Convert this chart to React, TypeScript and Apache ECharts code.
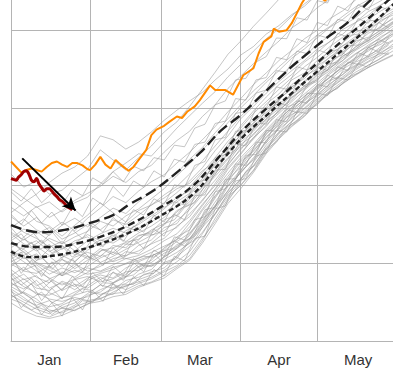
import React, { useEffect, useRef } from "react";
import * as echarts from "echarts";

// Month boundaries (day of year from Jan 1) and label positions
const MONTH_START_DAYS = [0, 31, 59, 90, 120, 151];
const MONTH_LABEL_DAYS = [15, 45, 74, 105, 136];
const MONTH_LABELS = ["Jan", "Feb", "Mar", "Apr", "May"];

// Days sampled for the first set of grey (past years) lines
const GREY_DAYS = [0, 5, 10, 15, 20, 25, 30, 35, 40, 45, 50, 55, 60, 65, 70, 75, 80, 85, 90, 95, 100, 105, 110, 115, 120, 125, 130, 135, 140, 145, 150];

const GREY_LINES: number[][] = [
  [6.0, 4.5, 3.6, 3.1, 3.8, 4.6, 5.9, 6.3, 7.5, 8.2, 9.6, 10.4, 12.0, 13.1, 15.2, 17.4, 19.6, 22.1, 24.0, 26.2, 27.6, 29.8, 31.0, 32.9, 33.6, 35.2, 36.1, 37.9, 38.6, 39.8, 41.0],
  [8.1, 7.0, 6.2, 5.4, 5.1, 5.6, 5.2, 5.5, 6.1, 6.3, 7.1, 7.6, 8.4, 9.5, 10.6, 12.9, 15.8, 18.3, 20.1, 22.0, 24.6, 26.8, 28.2, 29.9, 31.2, 32.6, 33.8, 35.1, 36.0, 37.2, 38.0],
  [4.9, 3.9, 3.2, 2.9, 3.3, 4.0, 4.7, 5.8, 6.9, 7.4, 8.6, 9.2, 10.8, 11.9, 13.6, 15.9, 18.4, 20.8, 22.4, 24.6, 26.1, 28.0, 29.6, 31.2, 32.5, 34.0, 35.2, 36.4, 37.3, 38.5, 39.6],
  [7.0, 6.1, 5.0, 4.4, 4.8, 5.9, 6.4, 6.0, 6.6, 7.8, 8.2, 8.9, 9.4, 10.9, 12.2, 14.0, 16.3, 18.6, 20.0, 21.9, 24.3, 26.2, 27.7, 29.0, 30.7, 32.0, 33.1, 34.3, 35.2, 36.1, 36.9],
  [9.2, 7.9, 8.4, 6.8, 7.5, 6.6, 7.8, 8.5, 8.1, 9.4, 10.2, 10.9, 11.8, 13.4, 14.3, 16.8, 18.7, 20.9, 23.1, 24.4, 26.6, 28.1, 29.9, 31.0, 32.8, 33.9, 35.4, 36.2, 37.8, 38.6, 39.9],
  [11.3, 10.2, 9.0, 8.1, 7.2, 8.0, 8.8, 9.9, 10.3, 11.5, 11.2, 12.6, 13.9, 14.6, 16.4, 18.0, 20.3, 22.6, 24.8, 26.1, 28.3, 29.5, 31.4, 32.6, 34.2, 35.0, 36.7, 37.5, 38.9, 40.1, 41.2],
  [12.5, 11.8, 10.4, 10.9, 9.6, 10.8, 11.4, 10.9, 12.3, 12.0, 13.5, 14.1, 15.6, 16.2, 18.3, 19.9, 22.0, 24.1, 26.2, 27.8, 29.0, 31.2, 32.4, 34.1, 35.0, 36.6, 37.4, 39.0, 39.8, 41.3, 42.0],
  [15.1, 14.0, 13.2, 12.1, 12.8, 11.6, 12.9, 13.8, 14.5, 13.9, 15.2, 16.4, 17.8, 19.1, 20.6, 22.3, 24.5, 26.4, 28.6, 30.2, 31.9, 33.4, 34.8, 36.1, 37.6, 38.5, 40.1, 41.0, 42.4, 43.2, 44.5],
  [21.5, 19.8, 20.6, 18.9, 19.4, 20.8, 22.1, 24.6, 23.3, 22.0, 23.6, 25.1, 26.9, 28.2, 30.2, 32.4, 34.6, 36.9, 38.6, 40.5, 42.2, 44.0, 45.6, 47.0, 48.4, 49.7, 50.8, 51.9, 52.8, 53.7, 54.6],
  [18.2, 17.0, 15.4, 14.8, 13.5, 14.9, 16.2, 17.8, 16.5, 15.3, 16.8, 17.5, 18.4, 19.6, 20.3, 21.9, 23.1, 25.0, 26.4, 28.1, 29.4, 31.0, 32.7, 33.8, 35.4, 36.5, 38.0, 38.8, 40.2, 41.1, 42.3],
  [16.5, 17.8, 18.9, 20.4, 21.6, 22.4, 23.8, 26.4, 25.9, 24.7, 25.6, 26.9, 28.4, 29.7, 30.9, 32.0, 33.6, 35.0, 36.8, 37.9, 39.5, 40.6, 42.0, 43.1, 44.6, 45.4, 46.9, 47.5, 48.8, 49.6, 50.7],
  [13.8, 12.5, 11.6, 12.4, 11.0, 10.2, 11.7, 12.6, 13.4, 14.7, 14.1, 15.8, 17.0, 18.5, 19.3, 21.4, 23.0, 24.9, 27.1, 28.4, 30.5, 31.8, 33.6, 34.5, 36.1, 37.3, 38.4, 39.7, 40.5, 41.9, 42.8],
  [7.8, 8.6, 7.1, 7.9, 6.5, 7.3, 6.8, 7.9, 8.8, 8.3, 9.5, 10.1, 11.3, 12.0, 13.8, 16.1, 18.6, 20.5, 22.7, 24.8, 26.9, 28.4, 30.1, 31.5, 32.9, 34.4, 35.6, 36.9, 38.1, 39.0, 40.3],
  [6.4, 5.3, 4.6, 5.2, 4.3, 4.9, 6.1, 7.2, 6.8, 7.0, 7.9, 8.5, 9.9, 10.6, 12.9, 15.0, 17.2, 19.9, 21.6, 23.6, 25.5, 27.3, 28.6, 30.4, 31.8, 33.0, 34.6, 35.5, 36.8, 37.6, 38.7],
  [10.4, 9.1, 9.8, 8.6, 9.4, 8.8, 9.6, 10.7, 11.4, 10.9, 12.3, 13.0, 14.6, 15.1, 17.3, 19.0, 21.5, 23.4, 25.6, 27.0, 28.9, 30.1, 31.9, 33.3, 34.6, 35.7, 37.2, 38.3, 39.6, 40.4, 41.7],
  [12.0, 13.1, 12.2, 11.0, 11.9, 12.6, 13.7, 12.9, 13.6, 12.8, 13.9, 14.8, 15.9, 17.4, 18.8, 20.6, 22.8, 25.3, 27.7, 29.6, 31.4, 33.0, 34.3, 35.9, 37.1, 38.6, 39.5, 41.0, 41.9, 43.3, 44.1],
  [8.8, 7.4, 6.0, 5.9, 6.7, 7.9, 8.3, 7.6, 8.0, 8.9, 9.1, 9.8, 10.5, 11.4, 12.6, 14.9, 17.5, 19.3, 21.8, 23.4, 25.8, 27.5, 29.0, 30.6, 32.0, 33.5, 34.3, 35.9, 36.6, 37.9, 38.8],
  [17.2, 16.1, 17.3, 15.9, 16.8, 18.1, 19.0, 19.9, 21.2, 20.4, 21.8, 22.6, 24.3, 25.8, 27.0, 28.9, 30.4, 32.5, 34.1, 35.7, 37.2, 38.6, 40.3, 41.4, 42.9, 44.0, 45.1, 46.3, 47.2, 48.4, 49.3],
  [9.6, 10.8, 9.5, 8.0, 8.7, 9.9, 9.0, 9.6, 10.6, 11.0, 11.6, 12.5, 13.2, 14.8, 16.0, 18.2, 20.0, 22.3, 24.2, 26.0, 27.8, 29.3, 30.8, 32.3, 33.7, 34.8, 36.1, 37.4, 38.4, 39.5, 40.6],
  [5.6, 6.3, 5.4, 4.0, 3.6, 4.4, 5.0, 5.4, 6.3, 7.1, 7.6, 8.2, 9.1, 10.2, 11.5, 13.8, 16.4, 19.0, 20.9, 23.0, 25.2, 26.9, 28.8, 30.0, 31.5, 32.8, 34.0, 35.3, 36.3, 37.0, 38.3],
  [11.8, 10.6, 11.2, 9.9, 10.5, 9.3, 10.4, 11.6, 12.0, 12.7, 13.1, 14.3, 15.1, 16.6, 17.9, 19.8, 21.7, 23.6, 25.0, 27.3, 28.5, 30.6, 31.6, 33.5, 34.4, 36.0, 36.9, 38.6, 39.1, 40.6, 41.5],
  [14.6, 15.7, 14.3, 13.6, 14.9, 15.8, 14.7, 15.9, 17.1, 16.4, 17.9, 19.2, 20.4, 21.6, 23.4, 24.9, 26.8, 28.6, 30.4, 32.2, 33.6, 35.3, 36.7, 38.0, 39.4, 40.5, 41.8, 43.0, 43.9, 45.2, 46.0],
  [7.4, 6.7, 7.8, 6.2, 5.5, 6.3, 7.1, 8.2, 7.5, 8.6, 9.9, 9.6, 10.9, 12.4, 13.2, 15.4, 17.9, 20.1, 22.0, 24.1, 26.3, 27.8, 29.4, 30.9, 32.4, 33.6, 35.0, 36.0, 37.5, 38.2, 39.4],
  [10.9, 11.5, 10.1, 9.4, 10.8, 11.4, 10.6, 11.9, 11.1, 12.4, 13.6, 13.9, 14.9, 16.8, 17.6, 19.5, 21.2, 23.0, 25.3, 26.5, 28.6, 29.9, 31.7, 32.8, 34.3, 35.4, 36.6, 37.8, 39.0, 40.0, 41.1],
  [19.6, 18.4, 17.2, 17.9, 16.6, 17.8, 18.5, 20.2, 21.8, 22.9, 24.1, 23.8, 25.6, 27.4, 29.0, 30.6, 32.1, 34.0, 35.6, 37.3, 38.9, 40.2, 41.8, 43.4, 44.6, 46.0, 47.3, 48.2, 49.5, 50.4, 51.3],
  [12.9, 11.4, 10.0, 9.1, 8.4, 9.1, 8.6, 8.9, 9.5, 9.9, 10.4, 11.0, 11.6, 12.8, 13.9, 15.6, 17.3, 19.1, 20.8, 22.6, 24.8, 26.4, 27.9, 29.2, 30.9, 32.2, 33.4, 34.6, 35.5, 36.4, 37.4],
  [13.2, 14.4, 13.8, 14.6, 13.1, 13.9, 15.0, 14.3, 15.6, 15.0, 16.2, 17.5, 18.8, 19.9, 21.5, 23.2, 25.1, 27.0, 28.9, 30.6, 32.3, 33.9, 35.5, 36.6, 38.2, 39.3, 40.6, 41.6, 42.9, 43.8, 45.0],
  [5.9, 5.0, 4.1, 3.5, 4.6, 5.3, 5.7, 6.6, 7.3, 6.6, 7.4, 8.0, 8.9, 9.7, 11.0, 13.2, 15.4, 18.0, 20.5, 22.5, 24.9, 26.7, 28.3, 29.6, 31.1, 32.5, 33.7, 34.9, 35.9, 36.8, 37.8],
  [9.9, 9.0, 8.7, 9.7, 8.4, 9.6, 10.9, 10.1, 10.9, 11.8, 12.7, 13.6, 14.2, 15.5, 16.9, 18.8, 20.7, 22.8, 24.6, 26.7, 28.1, 29.6, 31.3, 32.5, 33.9, 35.2, 36.4, 37.6, 38.7, 39.7, 40.9],
  [8.4, 9.5, 8.2, 7.5, 8.9, 8.2, 9.4, 9.0, 9.8, 10.6, 11.0, 11.8, 12.9, 13.8, 15.5, 17.6, 19.5, 21.6, 23.6, 25.3, 27.2, 28.9, 30.4, 31.8, 33.2, 34.6, 35.8, 37.0, 37.9, 39.2, 40.0],
  [16.0, 14.8, 15.9, 14.1, 15.3, 14.2, 15.8, 17.1, 18.6, 17.8, 19.3, 20.5, 21.4, 22.9, 24.3, 25.9, 27.6, 29.5, 31.2, 33.0, 34.5, 36.1, 37.4, 38.9, 40.0, 41.5, 42.5, 43.9, 44.8, 46.0, 46.8],
  [7.1, 8.0, 6.8, 6.5, 7.7, 7.0, 8.1, 8.7, 9.2, 10.0, 10.7, 11.4, 12.2, 13.0, 14.7, 17.0, 19.2, 21.2, 23.3, 25.0, 27.0, 28.6, 30.0, 31.5, 32.6, 34.0, 35.3, 36.5, 37.7, 38.7, 39.6],
  [11.0, 12.2, 12.9, 11.5, 12.3, 11.1, 12.0, 13.0, 12.6, 13.6, 14.5, 15.3, 16.4, 17.9, 19.0, 20.9, 22.6, 24.5, 26.6, 28.0, 29.9, 31.3, 33.0, 34.2, 35.6, 36.9, 38.0, 39.2, 40.3, 41.5, 42.5],
  [6.7, 5.6, 4.4, 3.8, 4.2, 3.9, 4.8, 5.1, 5.7, 6.0, 6.9, 7.5, 8.1, 9.3, 10.4, 12.6, 15.1, 17.7, 19.6, 21.7, 24.1, 26.0, 27.6, 28.9, 30.6, 31.9, 33.2, 34.2, 35.2, 36.0, 36.8],
  [14.0, 13.0, 14.1, 12.9, 11.8, 12.9, 13.4, 12.2, 12.9, 14.2, 15.0, 16.1, 17.2, 18.1, 19.8, 21.7, 23.6, 25.7, 27.4, 29.3, 30.8, 32.4, 33.9, 35.3, 36.5, 37.9, 39.1, 40.2, 41.4, 42.5, 43.4],
  [10.2, 11.0, 12.0, 13.2, 12.5, 13.4, 14.1, 15.4, 14.8, 16.1, 17.0, 18.3, 19.6, 21.3, 22.8, 24.6, 26.3, 28.1, 30.0, 31.6, 33.3, 34.8, 36.4, 37.6, 39.0, 40.4, 41.4, 42.7, 43.6, 44.9, 45.7],
];

// Days sampled for the second set of grey lines
const GREY_DAYS_B = [0, 4, 8, 12, 16, 20, 24, 28, 32, 36, 40, 44, 48, 52, 56, 60, 64, 68, 72, 76, 80, 84, 88, 92, 96, 100, 104, 108, 112, 116, 120, 124, 128, 132, 136, 140, 144, 148];

const GREY_LINES_B: number[][] = [
  [8.3, 6.1, 7.4, 5.2, 6.8, 5.4, 7.6, 6.2, 8.3, 7.0, 8.9, 7.8, 10.1, 8.9, 11.2, 10.0, 12.9, 12.2, 14.0, 16.9, 17.2, 20.8, 20.9, 23.9, 24.0, 27.1, 27.0, 29.8, 29.4, 31.9, 31.8, 34.2, 33.7, 35.9, 35.6, 37.8, 37.2, 39.1],
  [6.6, 4.3, 5.5, 3.4, 4.9, 3.2, 5.6, 4.0, 6.5, 5.1, 7.4, 6.0, 8.3, 7.1, 9.2, 8.4, 10.9, 10.3, 13.2, 13.5, 17.0, 17.4, 20.6, 20.9, 23.8, 24.2, 27.1, 26.9, 29.5, 29.3, 31.9, 31.6, 33.9, 33.6, 35.7, 35.2, 37.1, 36.9],
  [11.1, 8.7, 10.4, 8.3, 10.2, 8.4, 10.6, 8.9, 11.2, 9.7, 12.0, 10.6, 13.1, 11.9, 14.4, 13.5, 16.3, 15.6, 18.7, 18.8, 22.0, 22.1, 25.4, 25.1, 28.1, 27.9, 30.8, 30.3, 33.2, 32.7, 35.3, 34.8, 37.4, 36.7, 39.3, 38.6, 41.0, 40.3],
  [14.6, 13.1, 14.2, 12.6, 14.1, 12.5, 14.3, 13.2, 15.1, 14.0, 15.9, 14.8, 16.9, 16.2, 18.3, 17.6, 20.1, 19.8, 22.6, 23.1, 25.9, 26.2, 29.3, 29.5, 31.9, 32.3, 34.8, 34.6, 37.3, 37.0, 39.4, 39.0, 41.4, 41.1, 43.3, 42.6, 44.9, 44.4],
  [19.2, 18.0, 19.6, 17.8, 19.0, 17.6, 19.5, 18.7, 21.0, 20.2, 21.8, 20.5, 22.5, 21.9, 23.6, 23.3, 25.2, 25.0, 27.4, 27.9, 30.4, 30.9, 33.6, 33.8, 35.9, 36.6, 39.0, 38.9, 41.6, 41.3, 43.8, 43.5, 45.9, 45.5, 47.7, 47.1, 49.3, 48.9],
  [8.6, 7.2, 8.1, 6.6, 7.8, 6.5, 8.3, 7.0, 8.8, 7.6, 9.6, 8.5, 10.6, 9.6, 11.7, 10.9, 13.4, 13.0, 15.6, 16.0, 19.2, 19.6, 22.8, 22.6, 25.6, 25.5, 28.5, 28.2, 30.9, 30.6, 33.0, 32.7, 35.3, 34.8, 37.1, 36.6, 38.8, 38.3],
  [5.4, 4.9, 4.0, 4.6, 3.4, 4.3, 4.0, 5.2, 5.0, 6.1, 6.0, 7.2, 7.3, 8.6, 8.7, 10.1, 10.6, 12.2, 13.0, 15.2, 16.9, 18.9, 20.8, 23.0, 24.4, 26.7, 27.9, 30.1, 30.6, 32.9, 33.4, 35.6, 35.9, 38.0, 38.1, 40.1, 40.0, 41.7],
  [12.9, 13.8, 12.1, 13.0, 11.3, 12.2, 10.8, 11.6, 10.4, 11.1, 10.2, 10.7, 10.4, 10.9, 10.8, 11.6, 12.0, 12.8, 13.5, 15.0, 16.4, 18.4, 19.8, 21.8, 22.7, 24.7, 25.6, 27.5, 28.3, 29.7, 30.4, 31.9, 32.5, 33.9, 34.5, 35.5, 36.2, 37.2],
  [16.3, 15.0, 16.8, 15.2, 16.6, 14.9, 17.2, 16.0, 18.4, 17.5, 19.9, 18.6, 20.6, 19.8, 21.9, 21.1, 23.4, 23.0, 25.3, 25.6, 28.0, 28.3, 31.2, 31.0, 33.6, 33.9, 36.5, 36.2, 38.9, 38.4, 41.0, 40.6, 43.1, 42.5, 44.8, 44.2, 46.3, 45.8],
  [7.6, 6.4, 5.5, 6.3, 4.9, 5.6, 5.8, 6.7, 6.5, 7.5, 7.4, 8.2, 8.5, 9.6, 9.7, 10.8, 11.7, 12.6, 13.8, 15.7, 17.4, 19.6, 21.0, 22.4, 23.6, 25.8, 27.0, 28.8, 29.5, 30.8, 31.6, 32.9, 33.8, 34.8, 35.6, 36.5, 37.2, 38.1],
  [10.5, 11.4, 9.8, 10.9, 9.2, 10.5, 9.9, 11.1, 10.6, 11.8, 11.4, 12.5, 12.4, 13.6, 13.7, 15.1, 15.6, 17.2, 17.8, 20.0, 21.4, 23.8, 24.6, 27.0, 27.6, 29.8, 30.4, 32.5, 33.0, 34.9, 35.4, 37.2, 37.5, 39.3, 39.5, 41.2, 41.3, 42.6],
  [13.0, 11.6, 12.7, 10.9, 12.2, 10.6, 12.5, 11.3, 13.2, 12.1, 13.9, 12.8, 14.8, 14.0, 16.2, 15.3, 17.9, 17.5, 20.4, 20.7, 23.6, 24.0, 27.0, 27.1, 29.9, 30.0, 32.7, 32.4, 35.3, 34.9, 37.5, 37.0, 39.6, 39.1, 41.5, 40.9, 43.1, 42.6],
];

// Reference curves: [day, value]
const LONG_DASH: [number, number][] = [[0, 14.9], [11, 14.0], [21, 14.3], [31, 15.2], [40, 16.2], [46, 17.5], [56, 19.4], [65, 21.7], [74, 24.2], [82, 27.0], [90, 29.1], [100, 32.2], [110, 35.3], [118, 37.5], [124, 39.1], [132, 41.0], [141, 43.9], [151, 46.6]];
const MID_DASH: [number, number][] = [[0, 12.6], [9, 12.1], [17, 12.1], [25, 12.5], [35, 13.4], [46, 14.9], [58, 17.1], [71, 19.9], [81, 23.5], [91, 27.2], [100, 29.9], [110, 32.7], [120, 35.8], [130, 38.7], [140, 41.5], [148, 43.9], [151, 44.7]];
const SHORT_DASH: [number, number][] = [[0, 11.5], [7, 10.8], [19, 11.1], [31, 12.1], [46, 13.9], [58, 16.0], [71, 18.8], [81, 22.6], [91, 26.3], [100, 29.0], [110, 31.9], [120, 34.7], [130, 37.5], [140, 40.3], [150, 43.4]];

// Record year (orange)
const ORANGE: [number, number][] = [[0, 23.1], [2, 22.4], [4, 21.7], [6, 22.0], [8, 22.2], [10, 22.0], [12, 21.8], [14, 22.4], [16, 22.9], [18, 23.1], [20, 22.7], [22, 22.4], [24, 22.9], [26, 22.9], [28, 22.6], [30, 22.1], [31, 22.0], [33, 22.7], [35, 23.7], [37, 22.7], [39, 22.2], [41, 23.3], [43, 22.7], [46, 21.9], [48, 22.4], [50, 23.3], [53, 24.6], [55, 26.5], [57, 27.2], [60, 27.7], [62, 28.2], [65, 28.9], [67, 28.7], [69, 29.5], [72, 30.2], [74, 31.0], [78, 32.9], [80, 32.3], [84, 32.3], [87, 31.7], [91, 34.2], [95, 35.1], [97, 37.0], [99, 38.5], [102, 39.2], [103, 40.2], [105, 39.8], [108, 40.0], [110, 40.9], [112, 42.2], [114, 43.5], [116, 44.5], [119, 45.0], [121, 44.3], [123, 43.8], [125, 44.4], [128, 45.5], [135, 47.5], [151, 51.0]];

// Current year (dark red), daily
const CURRENT_DAYS = [0, 1, 2, 3, 4, 5, 6, 7, 8, 9, 10, 11, 12, 13, 14, 15, 16, 17, 18, 19, 20, 21, 22, 23, 24];
const CURRENT_VALUES = [20.9, 20.8, 20.7, 21.1, 21.4, 21.8, 21.9, 21.5, 20.7, 20.5, 20.9, 20.2, 19.7, 19.3, 19.6, 19.6, 19.3, 18.9, 18.6, 18.2, 18.0, 17.7, 17.3, 17.1, 16.9];

// Trend arrow: [day, value]
const ARROW_START: [number, number] = [4.4, 23.5];
const ARROW_END: [number, number] = [25.3, 16.8];

export default function App() {
  const ref = useRef<HTMLDivElement>(null);
  useEffect(() => {
    if (!ref.current) return;
    const chart = echarts.init(ref.current, undefined, { renderer: "svg" });
    const gridColor = "#b4b4b4";
    const series: any[] = [];
    const greyStyle = { color: "rgba(150,150,150,0.55)", width: 1 };
    GREY_LINES.forEach((vals, k) => {
      series.push({
        type: "line",
        name: "a" + k,
        data: vals.map((v, i) => [GREY_DAYS[i], v]),
        showSymbol: false,
        silent: true,
        lineStyle: greyStyle,
        z: 2,
      });
    });
    GREY_LINES_B.forEach((vals, k) => {
      series.push({
        type: "line",
        name: "b" + k,
        data: vals.map((v, i) => [GREY_DAYS_B[i], v]),
        showSymbol: false,
        silent: true,
        lineStyle: greyStyle,
        z: 2,
      });
    });
    const dashed = (data: [number, number][], dash: number[]) => ({
      type: "line",
      data,
      smooth: 0.4,
      showSymbol: false,
      silent: true,
      lineStyle: { color: "#222", width: 2.4, type: dash },
      z: 3,
    });
    series.push(dashed(LONG_DASH, [11, 5]));
    series.push(dashed(MID_DASH, [7, 4]));
    series.push(dashed(SHORT_DASH, [5, 3]));
    series.push({
      type: "line",
      data: ORANGE,
      showSymbol: false,
      silent: true,
      lineStyle: { color: "#ff8a00", width: 2 },
      z: 4,
    });
    series.push({
      type: "line",
      data: CURRENT_VALUES.map((v, i) => [CURRENT_DAYS[i], v]),
      showSymbol: false,
      silent: true,
      smooth: 0.3,
      lineStyle: { color: "#a00000", width: 3 },
      z: 5,
      markLine: {
        silent: true,
        symbol: ["none", "arrow"],
        symbolSize: [10, 13],
        label: { show: false },
        lineStyle: { color: "#000", width: 2, type: "solid" },
        data: [[{ coord: ARROW_START }, { coord: ARROW_END }]],
        z: 6,
      },
    });

    chart.setOption({
      animation: false,
      grid: { left: 11, right: 3.6, top: 0.5, bottom: 32, containLabel: false },
      xAxis: {
        type: "value",
        min: 0,
        max: 151,
        axisLine: { show: true, lineStyle: { color: gridColor, width: 1 } },
        axisTick: { show: false, customValues: MONTH_START_DAYS },
        splitLine: { show: true, lineStyle: { color: gridColor, width: 1 } },
        axisLabel: {
          customValues: MONTH_LABEL_DAYS,
          formatter: (v: number) => {
            const idx = MONTH_LABEL_DAYS.indexOf(Math.round(v));
            return idx >= 0 ? MONTH_LABELS[idx] : "";
          },
          color: "#333",
          fontSize: 15,
          fontFamily: "Liberation Sans, Arial, sans-serif",
          margin: 10.5,
        },
      },
      yAxis: {
        type: "value",
        min: 0,
        max: 50,
        interval: 10,
        axisLine: { show: false },
        axisTick: { show: false },
        axisLabel: { show: false },
        splitLine: { show: true, lineStyle: { color: gridColor, width: 1 } },
      },
      series,
    });
    return () => chart.dispose();
  }, []);
  return (
    <div style={{ position: "fixed", left: 0, top: 0, width: 393, height: 373, overflow: "hidden", background: "#fff" }}>
      <div
        ref={ref}
        style={{ position: "absolute", left: 0, top: -48, width: 400, height: 421 }}
      />
    </div>
  );
}
